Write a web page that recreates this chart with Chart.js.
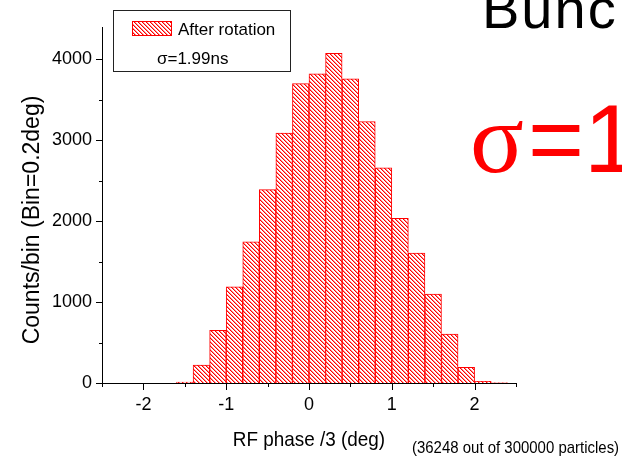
<!DOCTYPE html>
<html>
<head>
<meta charset="utf-8">
<script src="https://cdn.jsdelivr.net/npm/chart.js@4.4.1/dist/chart.umd.min.js"></script>
<style>
  html, body { margin: 0; padding: 0; background: #fff; overflow: hidden; }
</style>
</head>
<body>
<canvas id="histo" width="622" height="461"></canvas>
<script>
// Datos del histograma (centro de cada bin, ancho 0.2 deg)
const centros = [-1.5, -1.3, -1.1, -0.9, -0.7, -0.5, -0.3, -0.1, 0.1, 0.3,
                 0.5, 0.7, 0.9, 1.1, 1.3, 1.5, 1.7, 1.9, 2.1, 2.3];
const cuentas = [12, 220, 650, 1190, 1745, 2390, 3090, 3700, 3820, 4075,
                 3760, 3230, 2660, 2035, 1605, 1100, 604, 195, 22, 3];

const etiquetasX = [-2, -1, 0, 1, 2];
const etiquetasY = [0, 1000, 2000, 3000, 4000];
const ticksX = [-2.5, -2, -1.5, -1, -0.5, 0, 0.5, 1, 1.5, 2, 2.5];
const ticksY = [0, 500, 1000, 1500, 2000, 2500, 3000, 3500, 4000];

const nombreSerie = 'After rotation';
const sigmaLeyenda = 'σ=1.99ns';
const tituloX = 'RF phase /3 (deg)';
const tituloY = 'Counts/bin (Bin=0.2deg)';
const nota = '(36248 out of 300000 particles)';
const titulo = 'Bunc';
const sigmaGrande = ['σ', '=1'];

const fNormal = '"Liberation Sans", Arial, sans-serif';

const canvas = document.getElementById('histo');
const ctx = canvas.getContext('2d');

// patron rayado "\\\" rojo
function hacerPatron() {
  const c = document.createElement('canvas');
  c.width = 4; c.height = 4;
  const g = c.getContext('2d');
  g.fillStyle = '#fff';
  g.fillRect(0, 0, 4, 4);
  g.fillStyle = 'rgba(255,0,0,0.45)';
  for (let i = 0; i < 4; i++) g.fillRect((i + 1) % 4, i, 1, 1);
  g.fillStyle = '#ff0000';
  for (let i = 0; i < 4; i++) g.fillRect(i, i, 1, 1);
  return ctx.createPattern(c, 'repeat');
}
const rayado = hacerPatron();

// texto apretado en horizontal (el original se ve angosto)
function textoAngosto(c, txt, x, y, escala) {
  c.save();
  c.translate(x, y);
  c.scale(escala, 1);
  c.fillText(txt, 0, 0);
  c.restore();
}

// ticks, leyenda y textos sueltos
const extras = {
  id: 'extras',
  afterDraw(chart) {
    const c = chart.ctx;
    const sx = chart.scales.x, sy = chart.scales.y;
    const y0 = sy.bottom, x0 = sx.left;
    c.save();
    c.strokeStyle = '#000';
    c.lineWidth = 1;
    c.beginPath();
    ticksX.forEach(v => {
      const px = Math.round(sx.getPixelForValue(v)) + 0.5;
      const largo = Number.isInteger(v) ? 7 : 4;
      c.moveTo(px, y0);
      c.lineTo(px, y0 + largo);
    });
    ticksY.forEach(v => {
      const py = Math.round(sy.getPixelForValue(v)) + 0.5;
      const largo = v % 1000 === 0 ? 6 : 3;
      c.moveTo(x0, py);
      c.lineTo(x0 - largo, py);
    });
    c.stroke();

    c.fillStyle = '#000';
    c.textBaseline = 'alphabetic';

    // titulo eje Y
    c.save();
    c.translate(33, 220);
    c.rotate(-Math.PI / 2);
    c.textAlign = 'center';
    c.textBaseline = 'middle';
    c.font = '23px ' + fNormal;
    c.fillText(tituloY, 0, 0);
    c.restore();

    // titulo eje X
    c.textAlign = 'center';
    c.font = '21px ' + fNormal;
    textoAngosto(c, tituloX, (sx.left + sx.right) / 2, 446, 0.9);

    // leyenda
    c.textAlign = 'left';
    c.strokeStyle = '#222';
    c.strokeRect(113.5, 10.5, 177, 61);
    c.fillStyle = rayado;
    c.fillRect(132, 21, 40, 15);
    c.strokeStyle = '#ff0000';
    c.strokeRect(132.5, 21.5, 39, 14);
    c.fillStyle = '#000';
    c.font = '17px ' + fNormal;
    c.fillText(nombreSerie, 178, 35);
    c.fillText(sigmaLeyenda, 157, 64);

    // nota abajo
    c.font = '17px ' + fNormal;
    textoAngosto(c, nota, 412, 453, 0.88);

    // textos grandes de la diapositiva
    c.font = '56px ' + fNormal;
    c.letterSpacing = '2px';
    c.fillText(titulo, 482, 28);
    c.letterSpacing = '0px';
    c.fillStyle = '#ff0000';
    c.font = '100px "Liberation Serif", serif';
    c.fillText(sigmaGrande[0], 470, 172);
    c.font = '96px ' + fNormal;
    c.fillText(sigmaGrande[1], 528, 172);
    c.restore();
  }
};

const chart = new Chart(ctx, {
  type: 'bar',
  data: {
    datasets: [{
      label: nombreSerie,
      data: centros.map((x, i) => ({ x: x, y: cuentas[i] })),
      backgroundColor: rayado,
      borderColor: '#ff0000',
      borderWidth: 1,
      barPercentage: 1,
      categoryPercentage: 1,
    }],
  },
  options: {
    responsive: false,
    animation: false,
    devicePixelRatio: 1,
    layout: { padding: { top: 27, right: 106, left: 0, bottom: 0 } },
    plugins: { legend: { display: false }, tooltip: { enabled: false } },
    scales: {
      x: {
        type: 'linear',
        min: -2.5,
        max: 2.5,
        offset: false,
        grid: { display: false },
        border: { display: true, color: '#000', width: 1 },
        afterBuildTicks: s => { s.ticks = etiquetasX.map(v => ({ value: v })); },
        ticks: {
          autoSkip: false,
          maxRotation: 0,
          padding: 3,
          color: '#000',
          font: { family: fNormal, size: 18 },
        },
        afterFit: s => { s.height = 78; },
      },
      y: {
        min: 0,
        max: 4400,
        grid: { display: false },
        border: { display: true, color: '#000', width: 1 },
        afterBuildTicks: s => { s.ticks = etiquetasY.map(v => ({ value: v })); },
        ticks: {
          autoSkip: false,
          padding: 2,
          color: '#000',
          font: { family: fNormal, size: 18 },
          callback: v => String(v),
        },
        afterFit: s => { s.width = 102; },
      },
    },
  },
  plugins: [extras],
});
</script>
</body>
</html>
